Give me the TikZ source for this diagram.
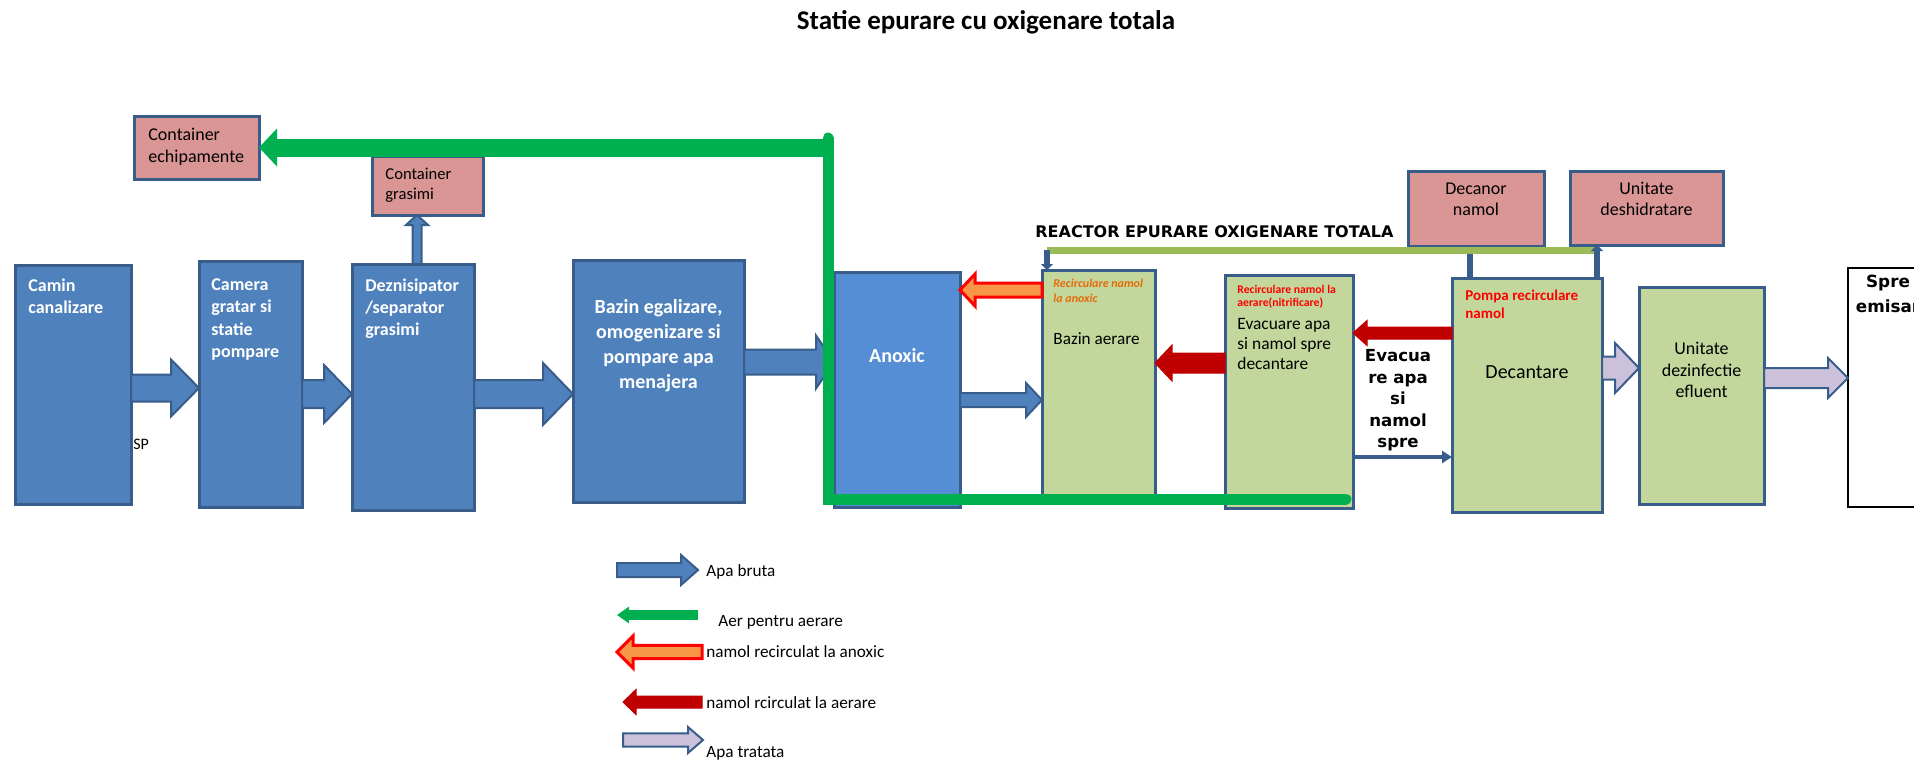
\documentclass[tikz,border=0pt]{standalone}
\usepackage{xcolor}
\usepackage{fontspec}
\setmainfont{Carlito}
\newfontfamily\widefont{DejaVu Sans}
\usepackage{tikz}
\usetikzlibrary{positioning,calc,arrows.meta}

\definecolor{boxblue}{HTML}{4F81BD}
\definecolor{lineblue}{HTML}{385D8A}
\definecolor{anoxblue}{HTML}{558ED5}
\definecolor{boxpink}{HTML}{D99694}
\definecolor{boxgreen}{HTML}{C3D69B}
\definecolor{airgreen}{HTML}{00B050}
\definecolor{reacgreen}{HTML}{9BBB59}
\definecolor{recorange}{HTML}{F79646}
\definecolor{txtorange}{HTML}{E46C0A}
\definecolor{darkred}{HTML}{C00000}
\definecolor{lilac}{HTML}{CCC1DA}

\newcommand{\fsz}[2]{\fontsize{#1}{#2}\selectfont}

% block arrows: style, from, to, half body, half head, head length (in px of the sketch)
\newcommand{\hfatarrow}[6]{%
  \draw[#1] let \p1=(#2), \p2=(#3), \n1={sign(\x2-\x1)} in
    (\x1,{\y1+#4*0.5pt}) -- ({\x2-(\n1)*#6*0.5pt},{\y1+#4*0.5pt})
    -- ({\x2-(\n1)*#6*0.5pt},{\y1+#5*0.5pt}) -- (\x2,\y1)
    -- ({\x2-(\n1)*#6*0.5pt},{\y1-#5*0.5pt}) -- ({\x2-(\n1)*#6*0.5pt},{\y1-#4*0.5pt})
    -- (\x1,{\y1-#4*0.5pt}) -- cycle;}
\newcommand{\vfatarrow}[6]{%
  \draw[#1] let \p1=(#2), \p2=(#3), \n1={sign(\y2-\y1)} in
    ({\x1+#4*0.5pt},\y1) -- ({\x1+#4*0.5pt},{\y2-(\n1)*#6*0.5pt})
    -- ({\x1+#5*0.5pt},{\y2-(\n1)*#6*0.5pt}) -- (\x1,\y2)
    -- ({\x1-#5*0.5pt},{\y2-(\n1)*#6*0.5pt}) -- ({\x1-#4*0.5pt},{\y2-(\n1)*#6*0.5pt})
    -- ({\x1-#4*0.5pt},\y1) -- cycle;}

\begin{document}
\begin{tikzpicture}[x=0.5pt, y=-0.5pt, every node/.style={font=\fsz{9}{11}},
    box/.style={rectangle, draw=lineblue, line width=1.5pt, inner sep=0pt, outer sep=0pt, anchor=north west},
    bluebox/.style={box, fill=boxblue},
    pinkbox/.style={box, fill=boxpink},
    greenbox/.style={box, fill=boxgreen},
    wtxt/.style={text=white, font=\bfseries\fsz{9}{11}, align=left, inner sep=0pt},
    ktxt/.style={text=black, align=left, inner sep=0pt},
    ctxt/.style={text=black, align=center, inner sep=0pt},
    legtxt/.style={anchor=west, inner sep=0pt, font=\fsz{8.6}{10}},
    bluearrow/.style={draw=lineblue, fill=boxblue, line width=1pt},
    orangearrow/.style={draw=red, fill=recorange, line width=1.5pt},
    redarrow/.style={draw=darkred, fill=darkred, line width=0.5pt},
    lilacarrow/.style={draw=lineblue, fill=lilac, line width=1pt},
    airline/.style={draw=airgreen, line width=5.5pt},
    stub/.style={draw=lineblue, line width=3pt}]
    \useasboundingbox (0,0) rectangle (1914,761);

    % Title
    \node[font=\bfseries\fsz{13.5}{16}] (title) at (986,22) {Statie epurare cu oxigenare totala};

    % Containers
    \node[pinkbox, minimum width=62.5pt, minimum height=31.5pt, label={[ktxt, anchor=north west, xshift=7pt, yshift=-6pt]north west:{Container\\echipamente}}] (cont-echip) at (134,116) {};
    \node[pinkbox, minimum width=55.5pt, minimum height=29.5pt, label={[ktxt, font=\fsz{8.3}{10}, anchor=north west, xshift=6.5pt, yshift=-6pt]north west:{Container\\grasimi}}] (cont-gras) at (372,156) {};

    % Pretreatment
    \node[bluebox, minimum width=58pt, minimum height=119.5pt, label={[wtxt, anchor=north west, xshift=6.5pt, yshift=-6.5pt]north west:{Camin\\canalizare}}] (camin) at (15,265) {};
    \node[bluebox, minimum width=51.5pt, minimum height=123pt, label={[wtxt, font=\bfseries\fsz{9}{11.2}, anchor=north west, xshift=6pt, yshift=-8.5pt]north west:{Camera\\gratar si\\statie\\pompare}}] (camera) at (199,261) {};
    \node[bluebox, minimum width=61pt, minimum height=123pt, label={[wtxt, anchor=north west, xshift=6.5pt, yshift=-7pt]north west:{Deznisipator\\/separator\\grasimi}}] (dezn) at (352,264) {};
    \node[bluebox, minimum width=85.5pt, minimum height=121pt, label={[wtxt, font=\bfseries\fsz{10}{12.5}, align=center, anchor=north, yshift=-19.5pt]north:{Bazin egalizare,\\omogenizare si\\pompare apa\\menajera}}] (egal) at (573,260) {};
    \node[bluebox, fill=anoxblue, minimum width=63pt, minimum height=117.5pt, label={[wtxt, font=\bfseries\fsz{10}{12.5}, anchor=north, yshift=-38pt]north:{Anoxic}}] (anoxic) at (834,272) {};
    \node[anchor=west, font=\fsz{8}{10}, inner sep=0pt] (sp) at (133,444) {SP};

    % Reactor
    \node[anchor=west, inner sep=0pt, font=\widefont\bfseries\fsz{8}{10}] (reac-label) at (1035,232) {REACTOR EPURARE OXIGENARE TOTALA};
    \node[greenbox, minimum width=56.5pt, minimum height=116.5pt,
        label={[ktxt, text=txtorange, font=\bfseries\itshape\fsz{6}{7.5}, anchor=north west, xshift=5.5pt, yshift=-4.5pt]north west:{Recirculare namol\\la anoxic}},
        label={[ktxt, font=\fsz{8.6}{10}, anchor=north west, xshift=5.5pt, yshift=-31pt]north west:{Bazin aerare}}] (aerare) at (1042,270) {};
    \node[greenbox, minimum width=64pt, minimum height=116.5pt,
        label={[ktxt, text=red, font=\bfseries\fsz{5.85}{6.5}, anchor=north west, xshift=6pt, yshift=-5pt]north west:{Recirculare namol la\\aerare(nitrificare)}},
        label={[ktxt, font=\fsz{8.7}{10}, anchor=north west, xshift=6pt, yshift=-21.5pt]north west:{Evacuare apa\\si namol spre\\decantare}}] (evac) at (1225,275) {};
    \node[anchor=north, align=center, inner sep=0pt, font=\widefont\bfseries\fsz{8.3}{10.8}] (evac-label) at (1398,349) {Evacua\\re apa\\si\\namol\\spre};
    \node[greenbox, minimum width=75pt, minimum height=117pt,
        label={[ktxt, text=red, font=\bfseries\fsz{7.5}{9}, anchor=north west, xshift=6.5pt, yshift=-6pt]north west:{Pompa recirculare\\namol}},
        label={[ctxt, font=\fsz{10}{12}, anchor=north, yshift=-43.5pt]north:{Decantare}}] (decant) at (1452,278) {};
    \node[greenbox, minimum width=62.5pt, minimum height=108.5pt, label={[ctxt, font=\fsz{9}{10.75}, anchor=north, yshift=-27.5pt]north:{Unitate\\dezinfectie\\efluent}}] (dezinf) at (1639,287) {};
    \node[box, draw=black, line width=0.75pt, fill=white, minimum width=40pt, minimum height=119.5pt, label={[ctxt, font=\widefont\bfseries\fsz{8.4}{12.5}, anchor=north, yshift=-3.5pt]north:{Spre\\emisar}}] (emisar) at (1848,268) {};

    % Sludge
    \node[pinkbox, minimum width=68pt, minimum height=37.5pt, label={[ctxt, font=\fsz{9}{10.5}, anchor=north, yshift=-6pt]north:{Decanor\\namol}}] (decanor) at (1408,171) {};
    \node[pinkbox, minimum width=76.5pt, minimum height=37pt, label={[ctxt, font=\fsz{9}{10.5}, anchor=north, yshift=-5.5pt]north:{Unitate\\deshidratare}}] (deshidr) at (1570,171) {};
    \coordinate (reac-left) at (1047,250);
    \coordinate (reac-right) at (1597,250);
    \draw[stub] (decant.north -| 1470,0) -- (decanor.south -| 1470,0);
    \draw[reacgreen, line width=3.5pt] (reac-left) -- (reac-right);
    \draw[stub, -{Triangle[length=3pt, width=6pt]}] (reac-left) -- (aerare.north -| reac-left);
    \draw[stub, -{Triangle[length=3pt, width=6pt]}] (decant.north -| reac-right) -- (deshidr.south -| reac-right);

    % Raw water
    \hfatarrow{bluearrow}{camin.east |- 0,388}{camera.west |- 0,388}{13.5}{28.5}{28}
    \hfatarrow{bluearrow}{camera.east |- 0,394}{dezn.west |- 0,394}{14}{29}{28}
    \hfatarrow{bluearrow}{dezn.east |- 0,394}{egal.west |- 0,394}{14}{31}{30}
    \hfatarrow{bluearrow}{egal.east |- 0,362}{anoxic.west |- 0,362}{12.5}{26.5}{18}
    \hfatarrow{bluearrow}{anoxic.east |- 0,400}{aerare.west |- 0,400}{7}{17}{16}
    \vfatarrow{bluearrow}{dezn.north -| 417,0}{cont-gras.south -| 417,0}{4.5}{11}{10}
    \draw[lineblue, line width=2pt, -{Triangle[length=5pt, width=6pt]}] (evac.east |- 0,457) -- (decant.west |- 0,457);

    % Recirculation
    \hfatarrow{orangearrow}{aerare.west |- 0,290}{anoxic.east |- 0,290}{7}{16}{15}
    \hfatarrow{redarrow}{evac.west |- 0,363}{aerare.east |- 0,363}{10}{18}{17}
    \hfatarrow{redarrow}{decant.west |- 0,333}{evac.east |- 0,333}{6}{12.5}{14}

    % Treated water
    \hfatarrow{lilacarrow}{decant.east |- 0,368}{dezinf.west |- 0,368}{11.5}{25}{24}
    \hfatarrow{lilacarrow}{dezinf.east |- 0,378}{emisar.west |- 0,378}{10}{20}{20}

    % Air
    \coordinate (air-top) at (828,138);
    \coordinate (air-corner) at (828,499);
    \coordinate (air-end) at (1346,499);
    \draw[airline, line cap=round] (air-end) -- (air-corner) -- (air-top);
    \draw[airline, line width=9pt, -{Triangle[length=9pt, width=18.5pt]}] (air-top |- cont-echip.east) -- (cont-echip.east);

    % Legend
    \coordinate (lg-bruta-a) at (617,570);
    \coordinate (lg-bruta-b) at (698,570);
    \coordinate (lg-aer-a) at (698,615);
    \coordinate (lg-aer-b) at (617,615);
    \coordinate (lg-anox-a) at (702,652);
    \coordinate (lg-anox-b) at (617,652);
    \coordinate (lg-aerare-a) at (702,702);
    \coordinate (lg-aerare-b) at (623,702);
    \coordinate (lg-tratata-a) at (623,740);
    \coordinate (lg-tratata-b) at (703,740);
    \hfatarrow{bluearrow}{lg-bruta-a}{lg-bruta-b}{7}{15}{17}
    \draw[airline, line width=5pt, -{Triangle[length=6pt, width=8pt]}] (lg-aer-a) -- (lg-aer-b);
    \hfatarrow{orangearrow}{lg-anox-a}{lg-anox-b}{6.7}{16}{16}
    \hfatarrow{redarrow}{lg-aerare-a}{lg-aerare-b}{6}{12.5}{13}
    \hfatarrow{lilacarrow}{lg-tratata-a}{lg-tratata-b}{6.7}{13}{15}
    \node[legtxt] (lg-bruta) at (706,572) {Apa bruta};
    \node[legtxt] (lg-aer) at (718,622) {Aer pentru aerare};
    \node[legtxt] (lg-anox) at (706,652) {namol recirculat la anoxic};
    \node[legtxt] (lg-aerare) at (706,703) {namol rcirculat la aerare};
    \node[legtxt] (lg-tratata) at (706,753) {Apa tratata};
\end{tikzpicture}
\end{document}
